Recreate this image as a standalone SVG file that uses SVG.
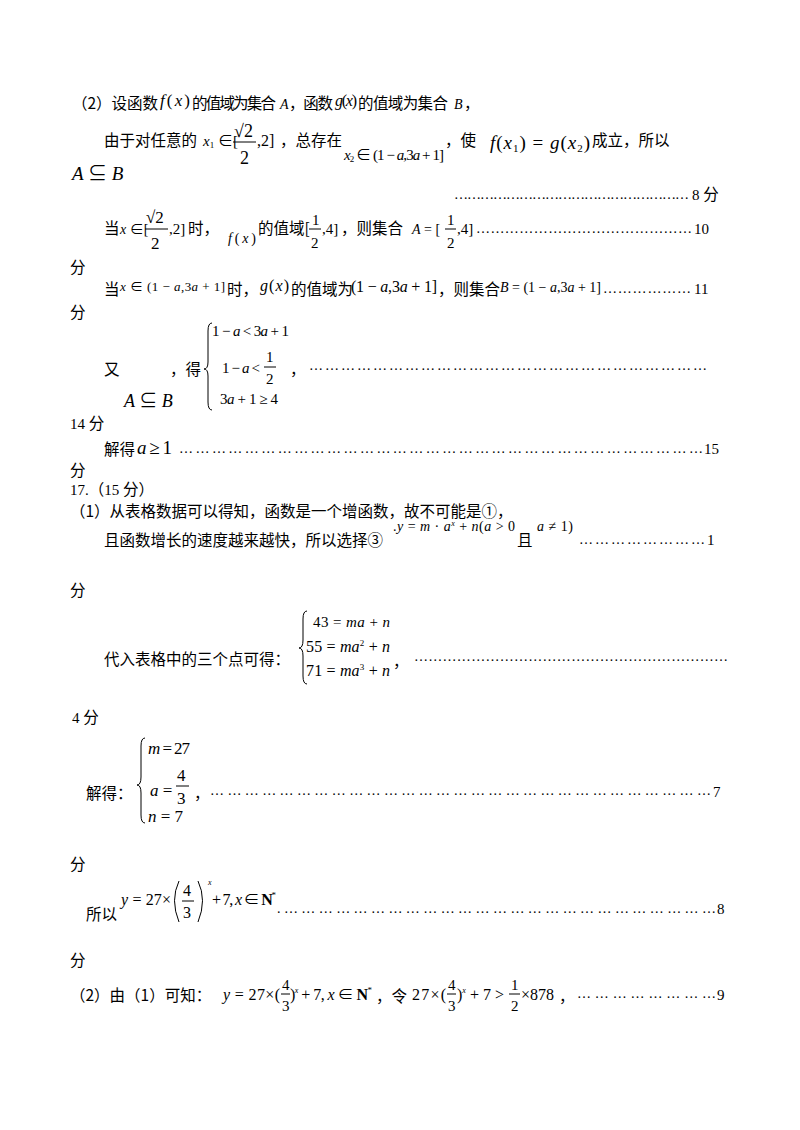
<svg xmlns="http://www.w3.org/2000/svg" width="800" height="1130" viewBox="0 0 800 1130" font-family="'Liberation Serif','Noto Sans CJK SC',serif" font-size="15">
<style>
text{fill:#000}
.c{font-family:"Noto Sans CJK SC","Liberation Serif",sans-serif;font-size:15.5px}
.i{font-style:italic}
.d{font-size:14px}
.br{fill:none;stroke:#000;stroke-width:1}
.fl{stroke:#000;stroke-width:1}
</style>
<rect width="800" height="1130" fill="#fff"/>
<g id="part2">
<text x="72" y="109" class="c">（2）设函数</text>
<text x="160" y="106" font-size="17" textLength="30"><tspan class="i">f</tspan>(<tspan class="i">x</tspan>)</text>
<text x="192" y="109" class="c" textLength="84">的值域为集合</text>
<text x="280" y="109" class="i" font-size="14">A</text>
<text x="289" y="109" class="c" textLength="44">，函数</text>
<text x="335" y="106" font-size="16" textLength="22"><tspan class="i">g</tspan>(<tspan class="i">x</tspan>)</text>
<text x="358" y="109" class="c" textLength="90">的值域为集合</text>
<text x="454" y="109" class="i" font-size="14">B</text>
<text x="464" y="109" class="c">，</text>

<text x="104" y="146" class="c">由于对任意的</text>
<text x="203" y="146" font-size="15"><tspan class="i">x</tspan><tspan font-size="9" dy="2">1</tspan><tspan dy="-2"> ∈[</tspan></text>
<text x="234" y="137" font-size="18">√2</text><line class="fl" x1="233" y1="142" x2="256" y2="142"/><text x="240" y="164" font-size="18">2</text>
<text x="257" y="146" font-size="16">,2]</text>
<text x="280" y="146" class="c">，总存在</text>
<text x="344" y="160" font-size="15" textLength="100"><tspan class="i">x</tspan><tspan font-size="9" dy="2">2</tspan><tspan dy="-2"> ∈ (1 − </tspan><tspan class="i">a</tspan>,3<tspan class="i">a</tspan> + 1]</text>
<text x="445" y="146" class="c">，使</text>
<text x="490" y="149" font-size="19" textLength="100"><tspan class="i">f</tspan>(<tspan class="i">x</tspan><tspan font-size="11" dy="3">1</tspan><tspan dy="-3">) = </tspan><tspan class="i">g</tspan>(<tspan class="i">x</tspan><tspan font-size="11" dy="3">2</tspan><tspan dy="-3">)</tspan></text>
<text x="592" y="146" class="c">成立，所以</text>
<text x="72" y="180" font-size="19" class="i">A <tspan font-style="normal">⊆</tspan> B</text>
<text x="454" y="199" class="d" textLength="235" lengthAdjust="spacing">………………………………………………</text>
<text x="692" y="200" font-size="15">8 <tspan class="c">分</tspan></text>

<text x="104" y="234" class="c">当</text>
<text x="120" y="234" font-size="14"><tspan class="i">x</tspan> ∈[</text>
<text x="146" y="223" font-size="17">√2</text><line class="fl" x1="145" y1="229" x2="168" y2="229"/><text x="151" y="249" font-size="17">2</text>
<text x="169" y="234" font-size="15">,2]</text><text x="188" y="234" class="c">时，</text>
<text x="228" y="243" font-size="14" textLength="28"><tspan class="i">f</tspan>(<tspan class="i">x</tspan>)</text>
<text x="258" y="234" class="c">的值域[</text>
<text x="312" y="225" font-size="15">1</text><line class="fl" x1="309" y1="229" x2="321" y2="229"/><text x="311" y="248" font-size="15">2</text>
<text x="322" y="234" font-size="15">,4]</text><text x="341" y="234" class="c">，则集合</text>
<text x="412" y="234" font-size="14"><tspan class="i">A</tspan> = [</text>
<text x="447" y="225" font-size="15">1</text><line class="fl" x1="445" y1="229" x2="456" y2="229"/><text x="447" y="248" font-size="15">2</text>
<text x="457" y="234" font-size="15">,4]</text>
<text x="476" y="233" class="d" textLength="216" lengthAdjust="spacing">………………………………………</text>
<text x="694" y="234" font-size="15">10</text>
<text x="70" y="273" class="c">分</text>

<text x="104" y="295" class="c">当</text>
<text x="120" y="291" font-size="13" textLength="105"><tspan class="i">x</tspan> ∈ (1 − <tspan class="i">a</tspan>,3<tspan class="i">a</tspan> + 1]</text>
<text x="227" y="295" class="c">时，</text>
<text x="260" y="291" font-size="16" textLength="29"><tspan class="i">g</tspan>(<tspan class="i">x</tspan>)</text>
<text x="291" y="295" class="c">的值域为</text>
<text x="351" y="292" font-size="16" textLength="86">(1 − <tspan class="i">a</tspan>,3<tspan class="i">a</tspan> + 1]</text>
<text x="438" y="295" class="c">，则集合</text>
<text x="500" y="292" font-size="14" textLength="101"><tspan class="i">B</tspan> = (1 − <tspan class="i">a</tspan>,3<tspan class="i">a</tspan> + 1]</text>
<text x="603" y="293" class="d" textLength="88" lengthAdjust="spacing">………………</text>
<text x="694" y="294" font-size="15">11</text>
<text x="70" y="318" class="c">分</text>

<path class="br" d="M212,323 Q208,323 208,331 L208,362 Q208,369 204,369 Q208,369 208,376 L208,402 Q208,410 212,410"/>
<text x="212" y="336" font-size="15" textLength="77">1 − <tspan class="i">a</tspan> &lt; 3<tspan class="i">a</tspan> + 1</text>
<text x="222" y="373" font-size="15" textLength="38">1 − <tspan class="i">a</tspan> &lt;</text>
<text x="266" y="362" font-size="15">1</text><line class="fl" x1="264" y1="367" x2="276" y2="367"/><text x="266" y="384" font-size="15">2</text>
<text x="220" y="404" font-size="15" textLength="58">3<tspan class="i">a</tspan> + 1 ≥ 4</text>
<text x="104" y="375" class="c">又</text>
<text x="170" y="375" class="c">，得</text>
<text x="124" y="407" font-size="18" class="i">A <tspan font-style="normal">⊆</tspan> B</text>
<text x="290" y="375" class="c">，</text>
<text x="309" y="370" class="d" textLength="398" lengthAdjust="spacing">…………………………………………………………………</text>
<text x="70" y="429" font-size="15">14 <tspan class="c">分</tspan></text>
<text x="104" y="455" class="c">解得</text>
<text x="137" y="454" font-size="19" textLength="35"><tspan class="i">a</tspan> ≥ 1</text>
<text x="179" y="453" class="d" textLength="524" lengthAdjust="spacing">……………………………………………………………………………………</text>
<text x="704" y="454" font-size="15">15</text>
<text x="70" y="476" class="c">分</text>
</g>
<g id="q17">
<text x="70" y="495" font-size="15">17.<tspan class="c">（</tspan>15 <tspan class="c">分）</tspan></text>
<text x="70" y="517" class="c">（1）从表格数据可以得知，函数是一个增函数，故不可能是①，</text>
<text x="104" y="546" class="c">且函数增长的速度越来越快，所以选择③</text>
<text x="393" y="531" font-size="14" textLength="122">.<tspan class="i">y</tspan> = <tspan class="i">m</tspan> · <tspan class="i">a</tspan><tspan font-size="8" dy="-5" class="i">x</tspan><tspan dy="5"> + </tspan><tspan class="i">n</tspan>(<tspan class="i">a</tspan> &gt; 0</text>
<text x="517" y="546" class="c">且</text>
<text x="537" y="531" font-size="14" textLength="36"><tspan class="i">a</tspan> ≠ 1)</text>
<text x="579" y="544" class="d" textLength="126" lengthAdjust="spacing">……………………</text>
<text x="707" y="545" font-size="15">1</text>
<text x="70" y="596" class="c">分</text>

<path class="br" d="M307,611 Q303,611 303,619 L303,640 Q303,648 299,648 Q303,648 303,656 L303,676 Q303,684 307,684"/>
<text x="313" y="627" font-size="15" textLength="77">43 = <tspan class="i">ma</tspan> + <tspan class="i">n</tspan></text>
<text x="306" y="652" font-size="16" textLength="84">55 = <tspan class="i">ma</tspan><tspan font-size="9" dy="-6">2</tspan><tspan dy="6"> + </tspan><tspan class="i">n</tspan></text>
<text x="306" y="676" font-size="16" textLength="84">71 = <tspan class="i">ma</tspan><tspan font-size="9" dy="-6">3</tspan><tspan dy="6"> + </tspan><tspan class="i">n</tspan></text>
<text x="104" y="665" class="c">代入表格中的三个点可得：</text>
<text x="393" y="667" class="c">，</text>
<text x="414" y="661" class="d" textLength="314" lengthAdjust="spacing">…………………………………………………………</text>
<text x="72" y="723" font-size="15">4 <tspan class="c">分</tspan></text>

<path class="br" d="M145,738 Q141,738 141,746 L141,777 Q141,785 137,785 Q141,785 141,793 L141,815 Q141,823 145,823"/>
<text x="148" y="754" font-size="17" class="i" textLength="42">m <tspan font-style="normal">= 27</tspan></text>
<text x="150" y="796" font-size="17" class="i">a <tspan font-style="normal">=</tspan></text>
<text x="177" y="781" font-size="17">4</text><line class="fl" x1="176" y1="786" x2="189" y2="786"/><text x="177" y="804" font-size="17">3</text>
<text x="148" y="822" font-size="17" class="i">n <tspan font-style="normal">= 7</tspan></text>
<text x="86" y="799" class="c">解得：</text>
<text x="194" y="799" class="c">，</text>
<text x="210" y="795" class="d" textLength="501" lengthAdjust="spacing">……………………………………………………………………………</text>
<text x="713" y="797" font-size="15">7</text>
<text x="70" y="870" class="c">分</text>

<text x="86" y="920" class="c">所以</text>
<text x="121" y="905" font-size="16" textLength="50"><tspan class="i">y</tspan> = 27×</text>
<path class="br" d="M179,881 Q170,900 179,922"/><path class="br" d="M198,881 Q207,900 198,922"/>
<text x="183" y="896" font-size="16">4</text><line class="fl" x1="182" y1="901" x2="194" y2="901"/><text x="183" y="918" font-size="16">3</text>
<text x="208" y="885" font-size="8" class="i">x</text>
<text x="212" y="905" font-size="16" textLength="64">+ 7, <tspan class="i">x</tspan> ∈ <tspan font-weight="bold">N</tspan><tspan font-size="9" dy="-7">*</tspan></text>
<text x="277" y="913" class="d" textLength="439" lengthAdjust="spacing">.…………………………………………………………………</text>
<text x="717" y="914" font-size="15">8</text>
<text x="70" y="966" class="c">分</text>

<text x="70" y="1001" class="c">（2）由（1）可知：</text>
<text x="223" y="1000" font-size="16" textLength="57"><tspan class="i">y</tspan> = 27×(</text>
<text x="282" y="990" font-size="15">4</text><line class="fl" x1="281" y1="994" x2="290" y2="994"/><text x="282" y="1011" font-size="15">3</text>
<text x="290" y="1000" font-size="16" textLength="82">)<tspan font-size="8" dy="-7" class="i">x</tspan><tspan dy="7"> + 7, </tspan><tspan class="i">x</tspan> ∈ <tspan font-weight="bold">N</tspan><tspan font-size="9" dy="-7">*</tspan></text>
<text x="376" y="1002" class="c">，令</text>
<text x="412" y="1000" font-size="16" textLength="34">27×(</text>
<text x="448" y="990" font-size="15">4</text><line class="fl" x1="447" y1="994" x2="456" y2="994"/><text x="448" y="1011" font-size="15">3</text>
<text x="457" y="1000" font-size="16" textLength="47">)<tspan font-size="8" dy="-7" class="i">x</tspan><tspan dy="7"> + 7 &gt;</tspan></text>
<text x="511" y="990" font-size="15">1</text><line class="fl" x1="509" y1="994" x2="520" y2="994"/><text x="511" y="1011" font-size="15">2</text>
<text x="521" y="1000" font-size="16">×878</text>
<text x="559" y="1002" class="c">，</text>
<text x="577" y="998" class="d" textLength="139" lengthAdjust="spacing">……………………</text>
<text x="717" y="1000" font-size="15">9</text>
</g>
</svg>
